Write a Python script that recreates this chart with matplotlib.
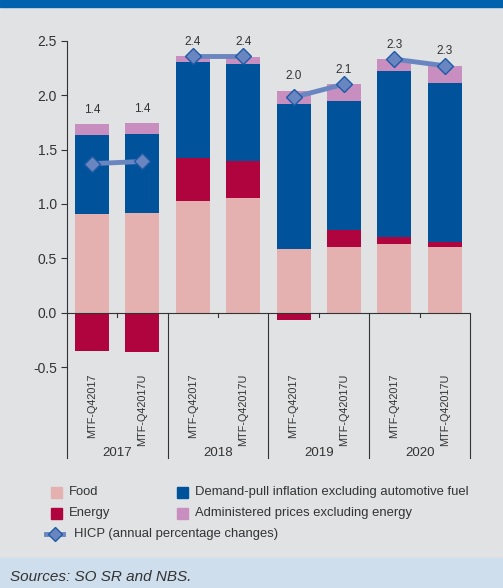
import matplotlib
matplotlib.use('Agg')
import matplotlib.pyplot as plt
from matplotlib.patches import Rectangle
from matplotlib.lines import Line2D
import numpy as np

# data
years = ['2017', '2018', '2019', '2020']
scenarios = ['MTF-Q42017', 'MTF-Q42017U']
food = [0.91, 0.92, 1.03, 1.05, 0.59, 0.60, 0.63, 0.60]
energy = [-0.35, -0.36, 0.39, 0.34, -0.07, 0.16, 0.07, 0.05]
demand = [0.72, 0.72, 0.88, 0.90, 1.33, 1.19, 1.52, 1.46]
administered = [0.10, 0.10, 0.06, 0.06, 0.12, 0.15, 0.11, 0.16]
hicp = [1.37, 1.39, 2.36, 2.36, 1.98, 2.10, 2.33, 2.27]
hicp_labels = ['1.4', '1.4', '2.4', '2.4', '2.0', '2.1', '2.3', '2.3']

BG = '#e1e2e4'
C_FOOD = '#e5b1b0'
C_ENERGY = '#b0043f'
C_DEMAND = '#00529b'
C_ADMIN = '#c98ec0'
C_LINE = '#6a86c0'
C_EDGE = '#1f5aa6'
TXT = '#333333'

plt.rcParams['font.family'] = ['Liberation Sans', 'DejaVu Sans']

W, H = 503, 588
fig = plt.figure(figsize=(W / 100, H / 100), dpi=100, facecolor=BG)
ax = fig.add_axes([66.7 / W, 1 - 458 / H, (470 - 66.7) / W, (458 - 40.7) / H])
ax.set_facecolor(BG)

x = np.arange(len(food))
w = 0.675
food_a = np.array(food)
energy_a = np.array(energy)
demand_a = np.array(demand)
admin_a = np.array(administered)

# positive parts stack upwards, negative energy goes below zero
e_pos = np.clip(energy_a, 0, None)
e_neg = np.clip(energy_a, None, 0)
ax.bar(x, food_a, w, color=C_FOOD, zorder=2)
ax.bar(x, e_pos, w, bottom=food_a, color=C_ENERGY, zorder=2)
ax.bar(x, e_neg, w, color=C_ENERGY, zorder=2)
base = food_a + e_pos
ax.bar(x, demand_a, w, bottom=base, color=C_DEMAND, zorder=2)
base = base + demand_a
ax.bar(x, admin_a, w, bottom=base, color=C_ADMIN, zorder=2)
tops = base + admin_a

# HICP line, one segment per year
for g in range(len(years)):
    idx = [2 * g, 2 * g + 1]
    ax.plot(idx, [hicp[i] for i in idx], color=C_LINE, lw=3.5, marker='D',
            ms=8, mfc=C_LINE, mec=C_EDGE, mew=1, zorder=4)

for i, lab in enumerate(hicp_labels):
    ax.annotate(lab, (i, max(tops[i], hicp[i])), xytext=(0, 6),
                textcoords='offset points', ha='center', va='bottom',
                fontsize=8.5, color=TXT)

ymin = -1.335
ax.set_ylim(ymin, 2.5)
ax.set_xlim(-0.5, 7.5)
ax.set_yticks([-0.5, 0.0, 0.5, 1.0, 1.5, 2.0, 2.5])
ax.set_yticklabels(['-0.5', '0.0', '0.5', '1.0', '1.5', '2.0', '2.5'])
ax.tick_params(axis='y', direction='out', length=4, width=0.8, colors=TXT,
               labelsize=10, pad=3)
ax.set_xticks([])
for s in ['top', 'right', 'bottom']:
    ax.spines[s].set_visible(False)
ax.spines['left'].set_color(TXT)
ax.spines['left'].set_linewidth(0.8)

ax.axhline(0, color=TXT, lw=0.8, zorder=3)
for g in range(len(years)):
    sep = 2 * g + 1.5
    ax.plot([sep, sep], [ymin, 0], color=TXT, lw=0.8, clip_on=False, zorder=3)
    mid = 2 * g + 0.5
    ax.plot([mid, mid], [0, -0.04], color=TXT, lw=0.8, zorder=3)
    ax.text(mid, -1.29, years[g], ha='center', va='center', fontsize=9.5,
            color=TXT)
    for k, sc in enumerate(scenarios):
        ax.text(2 * g + k, -0.555, sc, rotation=90, ha='center', va='top',
                fontsize=7.8, color=TXT)

# legend drawn by hand so the two columns sit where the reference has them
legend_items = [
    ('Food', C_FOOD, 56, 492),
    ('Energy', C_ENERGY, 56, 513),
    ('Demand-pull inflation excluding automotive fuel', C_DEMAND, 182, 492),
    ('Administered prices excluding energy', C_ADMIN, 182, 513),
]
for label, color, px, py in legend_items:
    fig.add_artist(Rectangle(((px - 5.5) / W, 1 - (py + 5.5) / H), 11 / W, 11 / H,
                             transform=fig.transFigure, color=color))
    fig.text((px + 13) / W, 1 - py / H, label, fontsize=9.4, color=TXT,
             ha='left', va='center')
fig.add_artist(Line2D([46 / W, 63 / W], [1 - 534 / H, 1 - 534 / H],
                      transform=fig.transFigure, color=C_LINE, lw=3.5))
fig.add_artist(Line2D([55 / W], [1 - 534 / H], transform=fig.transFigure,
                      marker='D', ms=7, mfc=C_LINE, mec=C_EDGE, mew=1))
fig.text(74 / W, 1 - 534 / H, 'HICP (annual percentage changes)', fontsize=9.4,
         color=TXT, ha='left', va='center')

# top and bottom bands
fig.add_artist(Rectangle((0, 1 - 7 / H), 1, 7 / H, transform=fig.transFigure,
                         color='#0062ad', zorder=0))
fig.add_artist(Rectangle((0, 0), 1, 30 / H, transform=fig.transFigure,
                         color='#cfdeec', zorder=0))
fig.text(10 / W, 11 / H, 'Sources: SO SR and NBS.', fontsize=11,
         style='italic', color=TXT, va='center', ha='left')

fig.savefig('out.png', dpi=100, facecolor=BG)
